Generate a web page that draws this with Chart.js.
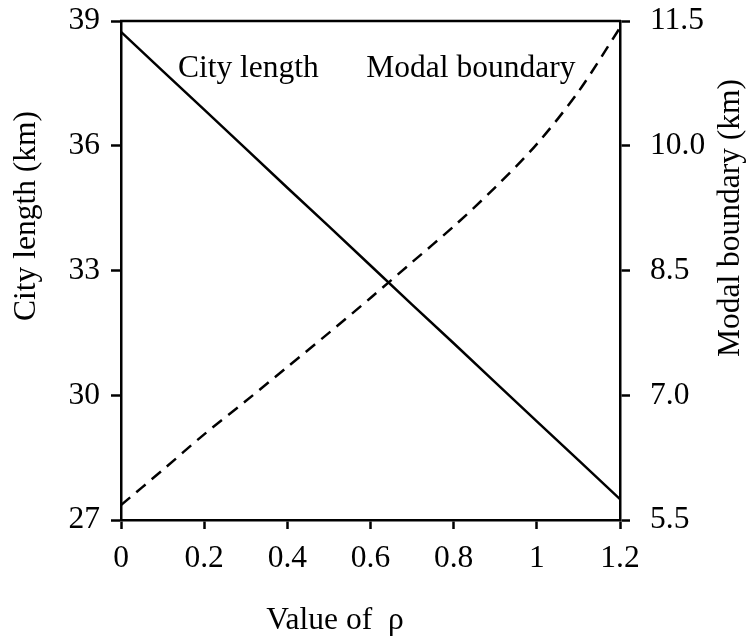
<!DOCTYPE html>
<html>
<head>
<meta charset="utf-8">
<script src="https://cdn.jsdelivr.net/npm/chart.js@4/dist/chart.umd.min.js"></script>
<style>
  html, body { margin: 0; padding: 0; background: #fff; }
  #wrap { width: 748px; height: 639px; }
</style>
</head>
<body>
<div id="wrap"><canvas id="rhoChart" width="748" height="639"></canvas></div>
<script>
// rho values and the two computed series
const rhoValues = [0, 0.1, 0.2, 0.3, 0.4, 0.5, 0.6, 0.7, 0.8, 0.9, 1.0, 1.1, 1.2];
const cityLength = [38.74, 37.80, 36.87, 35.93, 34.99, 34.06, 33.12, 32.18, 31.25, 30.31, 29.37, 28.44, 27.50];
const modalBoundary = [5.68, 6.10, 6.53, 6.93, 7.34, 7.75, 8.17, 8.60, 9.03, 9.50, 10.02, 10.65, 11.42];

// axis ranges and tick steps
const rhoRange = [0, 1.2, 0.2];
const lengthRange = [27, 39, 3];
const boundaryRange = [5.5, 11.5, 1.5];

// curve labels: text, rho position, city length position (baseline)
const curveLabels = [
  ['City length', 0.137, 37.65],
  ['Modal boundary', 0.59, 37.65]
];

const FONT = '"Liberation Serif", "Times New Roman", serif';
const FONT_SIZE = 31.5;
const LINE_W = 2.5;

const toPoints = (ys) => rhoValues.map((x, i) => ({ x, y: ys[i] }));

// Draws the top frame line, the axis titles and the in-plot curve labels
const framePlugin = {
  id: 'frame',
  afterDraw(chart) {
    const { ctx, chartArea: a, scales } = chart;
    ctx.save();
    ctx.strokeStyle = '#000';
    ctx.lineWidth = LINE_W;
    ctx.beginPath();
    ctx.moveTo(a.left - 1, a.top);
    ctx.lineTo(a.right + 1, a.top);
    ctx.stroke();

    ctx.fillStyle = '#000';
    ctx.font = `${FONT_SIZE}px ${FONT}`;
    ctx.textBaseline = 'alphabetic';
    ctx.textAlign = 'left';
    curveLabels.forEach(([text, x, y]) => {
      ctx.fillText(text, scales.x.getPixelForValue(x), scales.yLen.getPixelForValue(y));
    });

    ctx.textAlign = 'center';
    ctx.textBaseline = 'middle';
    ctx.fillText('Value of  \u03C1', 335, 621);

    ctx.translate(27, 216);
    ctx.rotate(-Math.PI / 2);
    ctx.fillText('City length (km)', 0, 0);
    ctx.restore();

    ctx.save();
    ctx.fillStyle = '#000';
    ctx.font = `${FONT_SIZE}px ${FONT}`;
    ctx.textAlign = 'center';
    ctx.textBaseline = 'middle';
    ctx.translate(731, 218);
    ctx.rotate(-Math.PI / 2);
    ctx.fillText('Modal boundary (km)', 0, 0);
    ctx.restore();
  }
};

const axisStyle = {
  border: { display: true, color: '#000', width: LINE_W },
  grid: { drawOnChartArea: false, drawTicks: true, tickLength: 10, tickWidth: LINE_W, tickColor: '#000' },
};

// fixed axis sizes so the plot box lands where we want it
const fitY = (w) => (s) => { s.width = w; s.paddingTop = 0; s.paddingBottom = 0; };

new Chart(document.getElementById('rhoChart').getContext('2d'), {
  type: 'line',
  data: {
    datasets: [
      {
        label: 'City length',
        data: toPoints(cityLength),
        yAxisID: 'yLen',
        borderColor: '#000',
        borderWidth: LINE_W,
        pointRadius: 0,
        tension: 0,
      },
      {
        label: 'Modal boundary',
        data: toPoints(modalBoundary),
        yAxisID: 'yMod',
        borderColor: '#000',
        borderWidth: LINE_W,
        borderDash: [12, 8],
        pointRadius: 0,
        tension: 0.3,
      }
    ]
  },
  options: {
    responsive: false,
    animation: false,
    layout: { padding: { top: 21, left: 0, right: 0, bottom: 0 } },
    plugins: { legend: { display: false }, tooltip: { enabled: false } },
    scales: {
      x: {
        type: 'linear',
        min: rhoRange[0], max: rhoRange[1],
        ...axisStyle,
        grid: { ...axisStyle.grid, tickLength: 9 },
        ticks: {
          stepSize: rhoRange[2],
          color: '#000',
          padding: 11,
          maxRotation: 0,
          font: { family: FONT, size: FONT_SIZE },
          callback: (v) => String(Math.round(v * 10) / 10),
        },
        afterFit: (s) => { s.height = 119; s.paddingLeft = 0; s.paddingRight = 0; },
      },
      yLen: {
        type: 'linear',
        position: 'left',
        min: lengthRange[0], max: lengthRange[1],
        ...axisStyle,
        ticks: {
          stepSize: lengthRange[2],
          color: '#000',
          padding: 11,
          font: { family: FONT, size: FONT_SIZE },
        },
        afterFit: fitY(121),
      },
      yMod: {
        type: 'linear',
        position: 'right',
        min: boundaryRange[0], max: boundaryRange[1],
        ...axisStyle,
        ticks: {
          stepSize: boundaryRange[2],
          color: '#000',
          padding: 20,
          font: { family: FONT, size: FONT_SIZE },
          callback: (v) => v.toFixed(1),
        },
        afterFit: fitY(128),
      }
    }
  },
  plugins: [framePlugin]
});
</script>
</body>
</html>
